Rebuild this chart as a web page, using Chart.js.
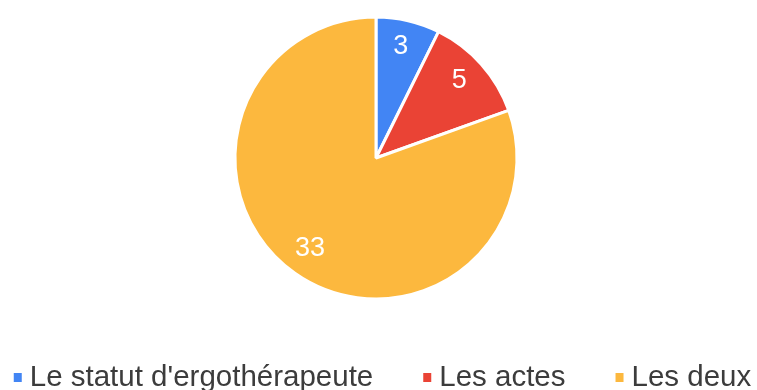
<!DOCTYPE html>
<html lang="fr">
<head>
<meta charset="utf-8">
<title>Répartition des réponses</title>
<script src="https://cdn.jsdelivr.net/npm/chart.js@4/dist/chart.umd.min.js"></script>
<style>
  html, body { margin: 0; padding: 0; background: #fff; }
  #wrap { width: 757px; height: 390px; position: relative; }
</style>
</head>
<body>
<div id="wrap"><canvas id="pie"></canvas></div>
<script>
// Answers and their counts
const categories = ["Le statut d'ergothérapeute", "Les actes", "Les deux"];
const counts = [3, 5, 33];
const sliceColors = ["#4285F4", "#EA4335", "#FCB83E"];

// White value labels placed at 80% of the radius, along each slice's mid-angle
const sliceValueLabels = {
  id: 'sliceValueLabels',
  afterDatasetsDraw(chart) {
    const ctx = chart.ctx;
    const meta = chart.getDatasetMeta(0);
    ctx.save();
    ctx.font = '27px "Liberation Sans", Arial, sans-serif';
    ctx.fillStyle = '#ffffff';
    ctx.textAlign = 'center';
    ctx.textBaseline = 'middle';
    meta.data.forEach((arc, i) => {
      const p = arc.getProps(['x', 'y', 'startAngle', 'endAngle', 'outerRadius'], true);
      const mid = (p.startAngle + p.endAngle) / 2;
      const r = p.outerRadius * 0.8;
      ctx.fillText(String(chart.data.datasets[0].data[i]), p.x + Math.cos(mid) * r - 1, p.y + Math.sin(mid) * r - 2);
    });
    ctx.restore();
  }
};

// Single-row legend at the bottom: small square, then the label
const bottomLegend = {
  id: 'bottomLegend',
  afterDraw(chart) {
    const ctx = chart.ctx;
    const labels = chart.data.labels;
    const colors = chart.data.datasets[0].backgroundColor;
    const box = 8, boxGap = 8, itemGap = 50;
    const baseline = 386, boxTop = 373, boxH = 9;
    ctx.save();
    ctx.font = '29.5px "Liberation Sans", Arial, sans-serif';
    const widths = labels.map(t => ctx.measureText(t).width);
    const total = widths.reduce((s, w) => s + box + boxGap + w, 0) + itemGap * (labels.length - 1);
    let x = (chart.width - total) / 2 + 4;
    ctx.textBaseline = 'alphabetic';
    ctx.textAlign = 'left';
    labels.forEach((t, i) => {
      ctx.fillStyle = colors[i];
      ctx.fillRect(x, boxTop, box, boxH);
      ctx.fillStyle = '#3c3c3c';
      ctx.fillText(t, x + box + boxGap, baseline);
      x += box + boxGap + widths[i] + itemGap;
    });
    ctx.restore();
  }
};

new Chart(document.getElementById('pie'), {
  type: 'pie',
  data: {
    labels: categories,
    datasets: [{
      data: counts,
      backgroundColor: sliceColors,
      borderColor: '#ffffff',
      borderWidth: 3,
      radius: 141
    }]
  },
  options: {
    responsive: true,
    maintainAspectRatio: false,
    animation: false,
    layout: { padding: { top: 17, bottom: 91, left: 0, right: 5 } },
    plugins: {
      legend: { display: false },
      tooltip: { enabled: false }
    }
  },
  plugins: [sliceValueLabels, bottomLegend]
});
</script>
</body>
</html>
